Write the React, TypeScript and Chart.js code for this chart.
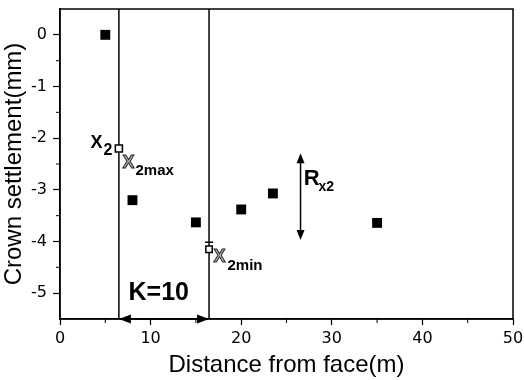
import React, { useEffect, useRef } from 'react';
import { Chart, registerables } from 'chart.js';

Chart.register(...registerables);

// ---- data ----
const DISTANCE = [5, 8, 15, 20, 23.5, 35];
const SETTLEMENT = [0, -3.2, -3.63, -3.38, -3.07, -3.64];
const X2_DIST = [6.5];
const X2_VALUE = [-2.2];
const X2MIN_DIST = [16.45];
const X2MIN_VALUE = [-4.15];
const K_BOUNDS = [6.5, 16.45];
const R_X = [26.55];
const R_RANGE = [-2.29, -3.97];

const X_MIN = 0;
const X_MAX = 50;
const Y_MIN = -5.5;
const Y_MAX = 0.5;
const X_TICKS = [0, 10, 20, 30, 40, 50];
const X_MINOR = [5, 15, 25, 35, 45];
const Y_TICKS = [-5, -4, -3, -2, -1, 0];
const Y_MINOR = [-4.5, -3.5, -2.5, -1.5, -0.5];

const X_TITLE = 'Distance from face(m)';
const Y_TITLE = 'Crown settlement(mm)';

function line(ctx: CanvasRenderingContext2D, x1: number, y1: number, x2: number, y2: number) {
  ctx.beginPath();
  ctx.moveTo(x1, y1);
  ctx.lineTo(x2, y2);
  ctx.stroke();
}

function head(ctx: CanvasRenderingContext2D, tx: number, ty: number, dx: number, dy: number, len: number, hw: number) {
  const bx = tx - dx * len;
  const by = ty - dy * len;
  ctx.beginPath();
  ctx.moveTo(tx, ty);
  ctx.lineTo(bx - dy * hw, by + dx * hw);
  ctx.lineTo(bx + dy * hw, by - dx * hw);
  ctx.closePath();
  ctx.fill();
}

const annotations = {
  id: 'annotations',
  afterDatasetsDraw(chart: any) {
    const { ctx, chartArea: a, scales } = chart;
    const x = scales.x;
    const y = scales.y;
    ctx.save();
    ctx.strokeStyle = '#000';
    ctx.fillStyle = '#000';
    ctx.lineWidth = 1.5;
    ctx.strokeRect(a.left, a.top, a.right - a.left, a.bottom - a.top);

    // minor ticks
    ctx.lineWidth = 1;
    X_MINOR.forEach((v) => {
      const px = x.getPixelForValue(v);
      line(ctx, px, a.bottom, px, a.bottom + 4);
    });
    Y_MINOR.forEach((v) => {
      const py = y.getPixelForValue(v);
      line(ctx, a.left - 4, py, a.left, py);
    });

    // K double arrow along bottom
    const yb = y.getPixelForValue(Y_MIN);
    const k0 = x.getPixelForValue(K_BOUNDS[0]);
    const k1 = x.getPixelForValue(K_BOUNDS[1]);
    ctx.lineWidth = 1.5;
    line(ctx, k0 + 6, yb, k1 - 6, yb);
    head(ctx, k0, yb, -1, 0, 12, 4.5);
    head(ctx, k1, yb, 1, 0, 12, 4.5);

    // R double arrow
    const rx = x.getPixelForValue(R_X[0]);
    const r0 = y.getPixelForValue(R_RANGE[0]);
    const r1 = y.getPixelForValue(R_RANGE[1]);
    ctx.lineWidth = 1.5;
    line(ctx, rx, r0 + 6, rx, r1 - 6);
    head(ctx, rx, r0, 0, -1, 10, 4);
    head(ctx, rx, r1, 0, 1, 10, 4);

    // texts
    const txt = (s: string, vx: number, vy: number, font: string) => {
      ctx.font = font;
      ctx.textAlign = 'left';
      ctx.textBaseline = 'alphabetic';
      ctx.fillStyle = '#000';
      ctx.fillText(s, x.getPixelForValue(vx), y.getPixelForValue(vy));
    };
    const hollow = (s: string, vx: number, vy: number, font: string) => {
      ctx.font = font;
      ctx.textAlign = 'left';
      ctx.textBaseline = 'alphabetic';
      ctx.fillStyle = '#a8a8a8';
      const px = x.getPixelForValue(vx);
      const py = y.getPixelForValue(vy);
      ctx.fillText(s, px, py);
      ctx.strokeStyle = '#222';
      ctx.lineWidth = 0.9;
      ctx.strokeText(s, px, py);
    };

    txt('K=10', 7.56, -5.13, 'bold 25px "Liberation Sans", Arial, sans-serif');
    txt('X', 3.37, -2.19, 'bold 18px "Liberation Sans", Arial, sans-serif');
    txt('2', 4.8, -2.32, 'bold 16px "Liberation Sans", Arial, sans-serif');
    hollow('X', 6.9, -2.57, 'bold 18px "Liberation Sans", Arial, sans-serif');
    txt('2max', 8.33, -2.71, 'bold 15px "Liberation Sans", Arial, sans-serif');
    hollow('X', 16.94, -4.39, 'bold 18px "Liberation Sans", Arial, sans-serif');
    txt('2min', 18.49, -4.55, 'bold 15px "Liberation Sans", Arial, sans-serif');
    txt('R', 26.9, -2.9, 'bold 22px "Liberation Sans", Arial, sans-serif');
    txt('x2', 28.53, -3.03, 'bold 14px "Liberation Sans", Arial, sans-serif');

    // small cap above x2min marker
    const mx = x.getPixelForValue(X2MIN_DIST[0]);
    const my = y.getPixelForValue(X2MIN_VALUE[0]);
    ctx.strokeStyle = '#000';
    ctx.lineWidth = 1.5;
    line(ctx, mx - 4, my - 7, mx + 4, my - 7);

    ctx.restore();
  },
};

export default function App() {
  const ref = useRef<HTMLCanvasElement | null>(null);

  useEffect(() => {
    document.body.style.margin = '0';
    const canvas = ref.current;
    if (!canvas) return;

    const vline = (v: number) => [
      { x: v, y: Y_MIN },
      { x: v, y: Y_MAX },
    ];

    const chart = new Chart(canvas, {
      type: 'scatter',
      data: {
        datasets: [
          {
            label: 'measured',
            data: DISTANCE.map((d, i) => ({ x: d, y: SETTLEMENT[i] })),
            pointStyle: 'rect',
            pointRadius: 7,
            backgroundColor: '#000',
            borderColor: '#000',
            borderWidth: 0,
          },
          {
            label: 'x2',
            data: X2_DIST.map((d, i) => ({ x: d, y: X2_VALUE[i] })),
            pointStyle: 'rect',
            pointRadius: 5,
            backgroundColor: '#fff',
            borderColor: '#000',
            borderWidth: 1.5,
          },
          {
            label: 'x2min',
            data: X2MIN_DIST.map((d, i) => ({ x: d, y: X2MIN_VALUE[i] })),
            pointStyle: 'rect',
            pointRadius: 4.5,
            backgroundColor: '#fff',
            borderColor: '#000',
            borderWidth: 1.5,
          },
          {
            label: 'k0',
            data: vline(K_BOUNDS[0]),
            showLine: true,
            borderColor: '#000',
            borderWidth: 1.5,
            pointRadius: 0,
          },
          {
            label: 'k1',
            data: vline(K_BOUNDS[1]),
            showLine: true,
            borderColor: '#000',
            borderWidth: 1.5,
            pointRadius: 0,
          },
        ],
      },
      options: {
        responsive: false,
        animation: false,
        layout: { padding: { left: 0, right: 11, top: 9, bottom: 0 } },
        plugins: {
          legend: { display: false },
          tooltip: { enabled: false },
          title: { display: false },
        },
        scales: {
          x: {
            type: 'linear',
            min: X_MIN,
            max: X_MAX,
            afterBuildTicks: (s: any) => {
              s.ticks = X_TICKS.map((v) => ({ value: v }));
            },
            afterFit: (s: any) => {
              s.height = 61;
              s.paddingLeft = 0;
              s.paddingRight = 0;
            },
            ticks: {
              color: '#000',
              padding: 4,
              maxRotation: 0,
              font: { family: '"DejaVu Sans", sans-serif', size: 16 },
              callback: (v: any) => String(v),
            },
            grid: {
              drawOnChartArea: false,
              drawTicks: true,
              tickLength: 6,
              color: '#000',
              tickWidth: 1.2,
            },
            border: { display: true, color: '#000', width: 1.5 },
            title: {
              display: true,
              text: X_TITLE,
              color: '#000',
              padding: 0,
              font: { family: '"Liberation Sans", Arial, sans-serif', size: 24 },
            },
          },
          y: {
            type: 'linear',
            min: Y_MIN,
            max: Y_MAX,
            afterBuildTicks: (s: any) => {
              s.ticks = Y_TICKS.map((v) => ({ value: v }));
            },
            afterFit: (s: any) => {
              s.width = 60;
              s.paddingTop = 0;
              s.paddingBottom = 0;
            },
            ticks: {
              color: '#000',
              padding: 6,
              font: { family: '"DejaVu Sans", sans-serif', size: 16 },
              callback: (v: any) => String(v),
            },
            grid: {
              drawOnChartArea: false,
              drawTicks: true,
              tickLength: 7,
              color: '#000',
              tickWidth: 1.2,
            },
            border: { display: true, color: '#000', width: 1.5 },
            title: {
              display: true,
              text: Y_TITLE,
              color: '#000',
              padding: 0,
              font: { family: '"Liberation Sans", Arial, sans-serif', size: 24 },
            },
          },
        },
      },
      plugins: [annotations],
    });

    return () => chart.destroy();
  }, []);

  return (
    <div style={{ width: 524, height: 380 }}>
      <canvas ref={ref} width={524} height={380} style={{ display: 'block' }} />
    </div>
  );
}
